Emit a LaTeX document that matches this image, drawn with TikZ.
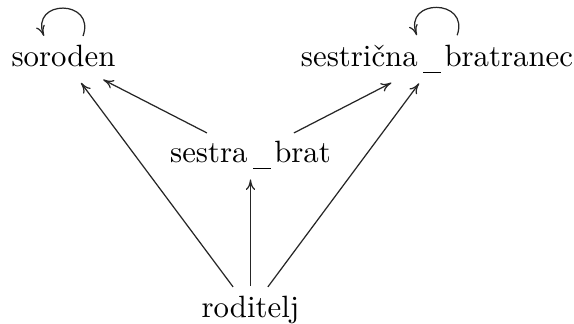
\documentclass[tikz,border=0pt]{standalone}
\usetikzlibrary{shapes.geometric,calc,arrows.meta}
\newcommand\myusc{\kern1.8pt\rule[-2pt]{5.9pt}{0.45pt}\kern1pt}
\begin{document}
\begin{tikzpicture}[x=0.3247pt,y=-0.3247pt,
  gnode/.style={ellipse,inner sep=0pt,minimum height=15.3pt,text height=7pt,text depth=2pt},
  garrow/.style={-{To[length=3.4pt,width=3pt]},line width=0.4pt,draw=black!85}]
\useasboundingbox (0,0) rectangle (574,324);
\node[gnode] (sor) at (63.5,59.3) {soroden};
\node[gnode] (ses) at (437,59.3) {sestrična\myusc bratranec};
\node[gnode] (sb) at (250.5,155.3) {sestra\myusc brat};
\node[gnode] (rod) at (250.5,310.3) {roditelj};
\draw[garrow] (rod) -- (sor);
\draw[garrow] (rod) -- (ses);
\draw[garrow] (rod) -- (sb);
\draw[garrow] (sb) -- (sor);
\draw[garrow] (sb) -- (ses);
\draw[garrow] (sor.50) .. controls ($(sor.50)+(13,-37)$) and ($(sor.130)+(-14,-37)$) .. (sor.130);
\draw[garrow] (ses.50) .. controls ($(ses.50)+(13,-37)$) and ($(ses.130)+(-14,-37)$) .. (ses.130);
\end{tikzpicture}
\end{document}
